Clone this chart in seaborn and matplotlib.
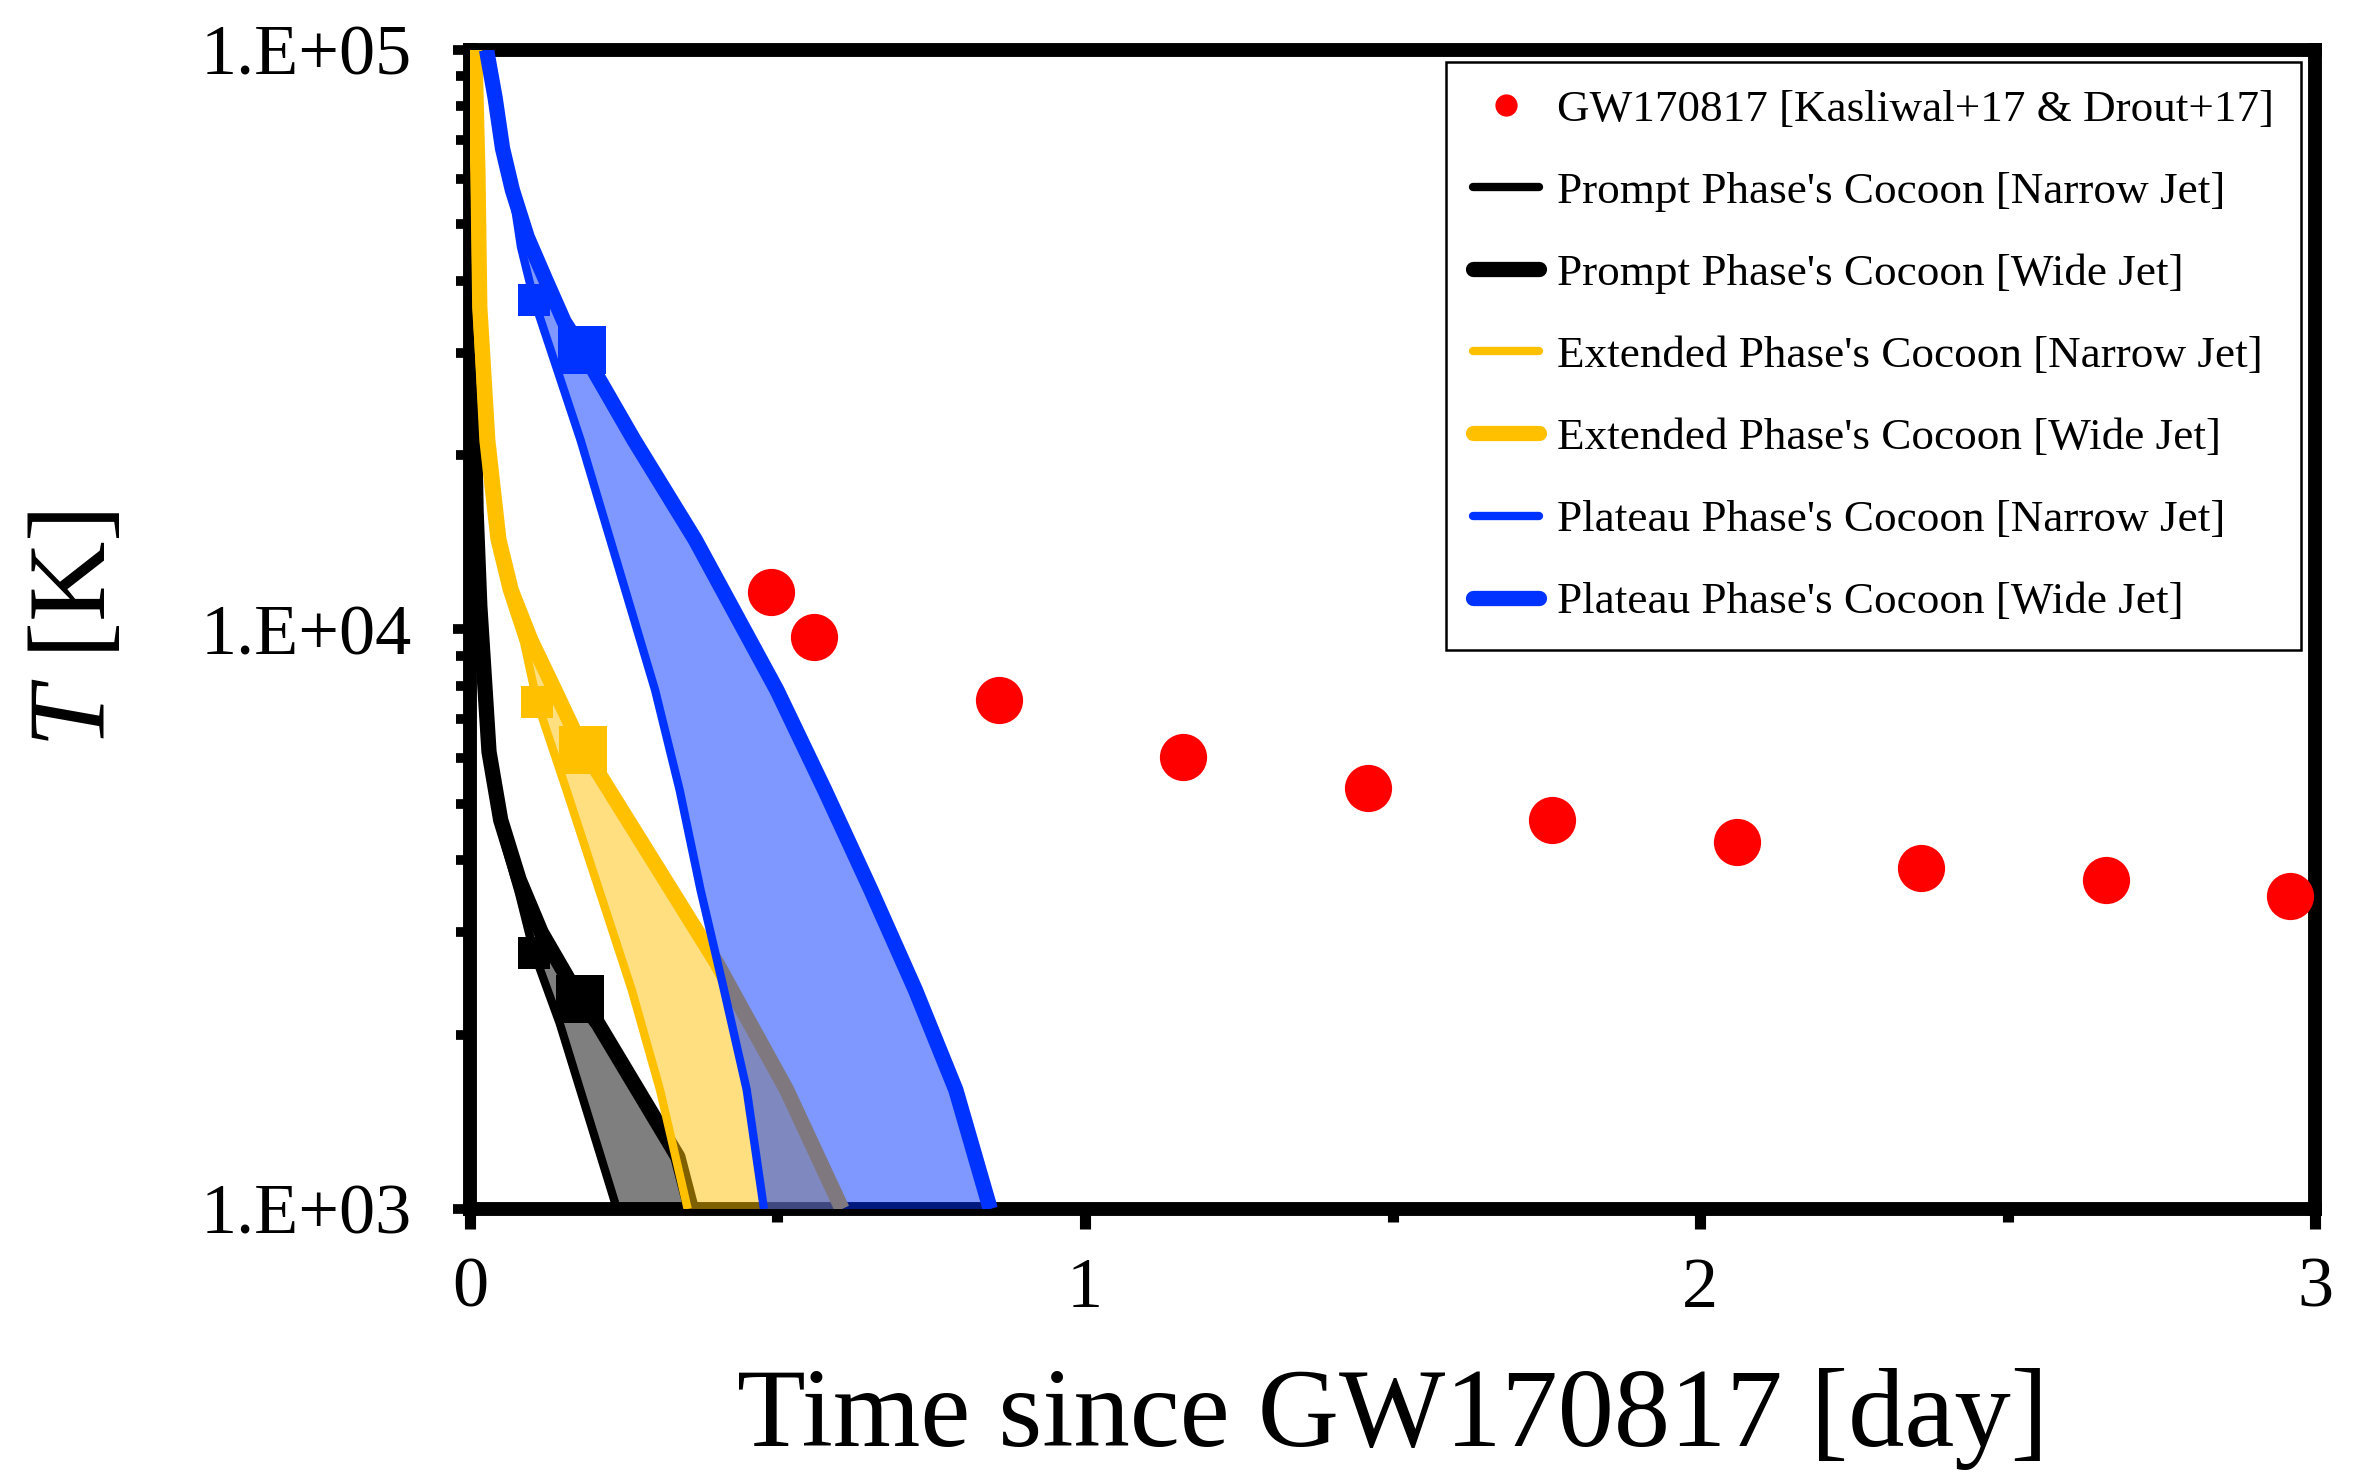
import numpy as np
import matplotlib
matplotlib.use("Agg")
import matplotlib.pyplot as plt
import seaborn as sns
from matplotlib.lines import Line2D
from matplotlib.ticker import FixedLocator, FixedFormatter, LogLocator, NullFormatter, MultipleLocator

# ---------------- data ----------------
obs_t = [0.49, 0.56, 0.86, 1.16, 1.46, 1.76, 2.06, 2.36, 2.66, 2.96]
obs_T = [11600, 9710, 7550, 6020, 5330, 4690, 4300, 3880, 3700, 3470]

prompt_narrow_t = [0.004, 0.010, 0.016, 0.030, 0.048, 0.080, 0.104, 0.146, 0.239]
prompt_narrow_T = [34600, 16000, 11000, 6150, 4600, 3500, 2770, 2090, 1000]
prompt_wide_t = [0.004, 0.010, 0.016, 0.031, 0.050, 0.080, 0.116, 0.179, 0.208, 0.338, 0.360]
prompt_wide_T = [34600, 16000, 11000, 6150, 4690, 3700, 3000, 2300, 2090, 1230, 1000]

extended_narrow_t = [0.003, 0.008, 0.011, 0.022, 0.040, 0.060, 0.088, 0.109, 0.157, 0.263, 0.309, 0.354]
extended_narrow_T = [100000, 61300, 36000, 21200, 14300, 11700, 9500, 7500, 5280, 2390, 1605, 1000]
extended_wide_t = [0.008, 0.013, 0.016, 0.029, 0.047, 0.067, 0.099, 0.138, 0.184, 0.211, 0.301,
                   0.401, 0.515, 0.605]
extended_wide_T = [100000, 61300, 36000, 21200, 14300, 11700, 9590, 7860, 6190, 5610, 3940,
                   2660, 1605, 1000]

plateau_narrow_t = [0.027, 0.041, 0.053, 0.069, 0.083, 0.104, 0.180, 0.228, 0.301, 0.341, 0.375,
                    0.413, 0.450, 0.478]
plateau_narrow_T = [100000, 82600, 67600, 57300, 45700, 37100, 21200, 14300, 7860, 5280, 3550,
                    2390, 1605, 1000]
plateau_wide_t = [0.027, 0.041, 0.053, 0.069, 0.093, 0.121, 0.153, 0.182, 0.267, 0.366, 0.499,
                  0.577, 0.652, 0.724, 0.790, 0.846]
plateau_wide_T = [100000, 82600, 67600, 57300, 47600, 40600, 34000, 30400, 21200, 14300, 7860,
                  5280, 3550, 2390, 1605, 1000]

# square markers (narrow jet, wide jet)
prompt_sq = [(0.104, 2770), (0.179, 2300)]
extended_sq = [(0.109, 7500), (0.184, 6190)]
plateau_sq = [(0.104, 37100), (0.182, 30400)]

y_ticks = [1e3, 1e4, 1e5]
y_tick_labels = ["1.E+03", "1.E+04", "1.E+05"]
x_ticks = [0, 1, 2, 3]
x_tick_labels = ["0", "1", "2", "3"]

legend_labels = [
    "GW170817 [Kasliwal+17 & Drout+17]",
    "Prompt Phase's Cocoon [Narrow Jet]",
    "Prompt Phase's Cocoon [Wide Jet]",
    "Extended Phase's Cocoon [Narrow Jet]",
    "Extended Phase's Cocoon [Wide Jet]",
    "Plateau Phase's Cocoon [Narrow Jet]",
    "Plateau Phase's Cocoon [Wide Jet]",
]

# ---------------- style ----------------
sns.set_style("white")
plt.rcParams['font.family'] = ['Liberation Serif', 'DejaVu Serif']
plt.rcParams['mathtext.fontset'] = 'custom'
plt.rcParams['mathtext.it'] = 'Liberation Serif:italic'
plt.rcParams['mathtext.rm'] = 'Liberation Serif'
for key in ['text.color', 'axes.labelcolor', 'xtick.color', 'ytick.color', 'axes.edgecolor']:
    plt.rcParams[key] = 'black'

BLACK, YELLOW, BLUE, RED = "#000000", "#FFC000", "#0033FF", "#FF0000"
THIN, THICK = 6.0, 11.0
SQ_SMALL, SQ_BIG = 23, 34

fig = plt.figure(figsize=(23.58, 14.74), dpi=100)
ax = fig.add_axes([0.1993, 0.1798, 0.9818 - 0.1993, 0.9661 - 0.1798])
ax.set_yscale('log')

phases = [
    (prompt_narrow_t, prompt_narrow_T, prompt_wide_t, prompt_wide_T, prompt_sq, BLACK),
    (extended_narrow_t, extended_narrow_T, extended_wide_t, extended_wide_T, extended_sq, YELLOW),
    (plateau_narrow_t, plateau_narrow_T, plateau_wide_t, plateau_wide_T, plateau_sq, BLUE),
]

for nt, nT, wt, wT, sq, c in phases:
    sns.lineplot(x=nt, y=nT, sort=False, estimator=None, color=c, linewidth=THIN,
                 solid_capstyle='butt', solid_joinstyle='round', ax=ax, zorder=2, legend=False)
    sns.lineplot(x=wt, y=wT, sort=False, estimator=None, color=c, linewidth=THICK,
                 solid_capstyle='butt', solid_joinstyle='round', ax=ax, zorder=2, legend=False)
    for (st, sT), size in zip(sq, [SQ_SMALL, SQ_BIG]):
        sns.scatterplot(x=[st], y=[sT], marker='s', s=size ** 2, color=c, linewidth=0,
                        ax=ax, zorder=2, legend=False)
    ax.fill(list(nt) + list(wt)[::-1], list(nT) + list(wT)[::-1], color=c, alpha=0.5,
            linewidth=0, zorder=2)

sns.scatterplot(x=obs_t, y=obs_T, color=RED, s=34 ** 2, linewidth=0, ax=ax, zorder=5,
                legend=False)

# ---------------- axes ----------------
ax.set_xlim(0, 3)
ax.set_ylim(1e3, 1e5)
ax.yaxis.set_major_locator(FixedLocator(y_ticks))
ax.yaxis.set_major_formatter(FixedFormatter(y_tick_labels))
ax.yaxis.set_minor_locator(LogLocator(base=10, subs=np.arange(2, 10)))
ax.yaxis.set_minor_formatter(NullFormatter())
ax.xaxis.set_major_locator(FixedLocator(x_ticks))
ax.xaxis.set_major_formatter(FixedFormatter(x_tick_labels))
ax.xaxis.set_minor_locator(MultipleLocator(0.5))

for s in ax.spines.values():
    s.set_linewidth(10)
    s.set_color('black')
    s.set_zorder(1)

ax.tick_params(axis='y', which='major', direction='out', length=12, width=7,
               labelsize=52, pad=30, left=True, right=False, colors='black')
ax.tick_params(axis='y', which='minor', direction='out', length=10, width=7,
               left=True, right=False, colors='black')
ax.tick_params(axis='x', which='major', direction='out', length=14.5, width=8,
               labelsize=52, pad=20, bottom=True, top=False, colors='black')
ax.tick_params(axis='x', which='minor', direction='out', length=9.5, width=8,
               bottom=True, top=False, colors='black')

ax.set_xlabel("Time since GW170817 [day]", fontsize=81, labelpad=33, color='black')
ax.set_ylabel(r"$\mathit{T}$ [K]", fontsize=80, color='black')
ax.yaxis.set_label_coords(-0.1854, 0.5)

# ---------------- legend ----------------
handles = [Line2D([], [], marker='o', color=RED, ls='none', ms=15)]
for c in [BLACK, YELLOW, BLUE]:
    handles.append(Line2D([], [], color=c, lw=THIN, solid_capstyle='round'))
    handles.append(Line2D([], [], color=c, lw=THICK, solid_capstyle='round'))
leg = ax.legend(handles, legend_labels, loc='upper right', bbox_to_anchor=(0.9924, 0.9896),
                borderaxespad=0, fontsize=32.5, frameon=True, fancybox=False, framealpha=1,
                edgecolor='black', handlelength=1.45, handletextpad=0.4, labelspacing=0.92,
                borderpad=0.6)
leg.get_frame().set_linewidth(1.8)
leg.set_zorder(10)
for t in leg.get_texts():
    t.set_color('black')

fig.savefig("out.png", dpi=100, facecolor='white')
